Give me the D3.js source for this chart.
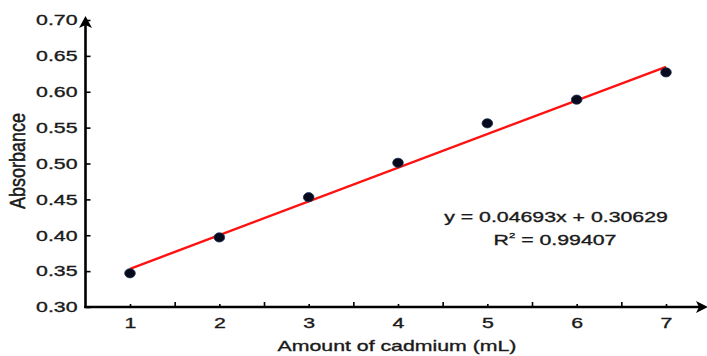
<!DOCTYPE html>
<html>
<head>
<meta charset="utf-8">
<script src="https://cdn.jsdelivr.net/npm/d3@7"></script>
<style>
  html, body { margin: 0; padding: 0; background: #fff; }
  svg { display: block; }
  text { font-family: "Liberation Sans", Arial, sans-serif; fill: #1a1a1a; stroke: #1a1a1a; stroke-width: 0.35px; }
</style>
</head>
<body>
<div id="chart"></div>
<script>
(function () {
    // ===== data =====
    const volumes = [1, 2, 3, 4, 5, 6, 7];                 // mL
    const absorbance = [0.347, 0.397, 0.453, 0.501, 0.556, 0.589, 0.627];
    const slope = 0.04693, intercept = 0.30629, r2 = "0.99407";
    const yTicks = [0.30, 0.35, 0.40, 0.45, 0.50, 0.55, 0.60, 0.65, 0.70];
    const xTicks = [1, 2, 3, 4, 5, 6, 7];
    const xMinor = [1.5, 2.5, 3.5, 4.5, 5.5, 6.5];

    // ===== settings =====
    const W = 707, H = 356;
    const SX = 1.42;       // reference text looks stretched horizontally
    const FS = 15;

    const svg = d3.select('#chart').append('svg')
        .attr('width', W).attr('height', H);

    const x = d3.scaleLinear().domain([1, 7]).range([130, 666]);
    const y = d3.scaleLinear().domain([0.30, 0.70]).range([307, 20]);
    const x0 = x.invert(85.5);

    // axes lines
    const axisG = svg.append('g');
    axisG.append('line')
        .attr('x1', x(x0)).attr('x2', x(x0))
        .attr('y1', y(0.30) + 1).attr('y2', 24)
        .attr('stroke', '#000').attr('stroke-width', 2.6);
    axisG.append('line')
        .attr('x1', x(x0) - 1.3).attr('x2', 700)
        .attr('y1', y(0.30)).attr('y2', y(0.30))
        .attr('stroke', '#000').attr('stroke-width', 2.6);
    // arrow heads
    const ax = x(x0), ay = y(0.30);
    axisG.append('path')
        .attr('d', `M${ax},16 L${ax - 6.5},28 L${ax},25 L${ax + 6.5},28 Z`)
        .attr('fill', '#000');
    axisG.append('path')
        .attr('d', `M708,${ay} L696,${ay - 6} L699,${ay} L696,${ay + 6} Z`)
        .attr('fill', '#000');

    // y axis ticks + labels
    const yAxis = d3.axisLeft(y).tickValues(yTicks).tickSize(-5).tickPadding(8)
        .tickFormat(d3.format('.2f'));
    const gy = svg.append('g').attr('transform', `translate(${ax},0)`).call(yAxis);
    gy.select('.domain').remove();
    gy.selectAll('line').attr('stroke', '#000').attr('stroke-width', 1.6);
    gy.selectAll('text')
        .attr('x', -8 / SX)
        .attr('transform', `scale(${SX},1)`)
        .style('font-size', FS + 'px')
        .style('font-family', '"Liberation Sans", Arial, sans-serif')
        .attr('fill', '#1a1a1a');

    // x axis ticks + labels
    const xAxis = d3.axisBottom(x).tickValues(xTicks).tickSize(-3).tickFormat(d3.format('d'));
    const gx = svg.append('g').attr('transform', `translate(0,${ay})`).call(xAxis);
    gx.select('.domain').remove();
    gx.selectAll('line').attr('stroke', '#000').attr('stroke-width', 1.6);
    gx.selectAll('text')
        .attr('x', 0).attr('y', 21).attr('dy', 0)
        .attr('transform', `scale(${SX},1)`)
        .style('font-size', FS + 'px')
        .style('font-family', '"Liberation Sans", Arial, sans-serif')
        .attr('fill', '#1a1a1a');
    // minor ticks
    const xMinorAxis = d3.axisBottom(x).tickValues(xMinor).tickSize(-5).tickFormat('');
    const gxm = svg.append('g').attr('transform', `translate(0,${ay})`).call(xMinorAxis);
    gxm.select('.domain').remove();
    gxm.selectAll('line').attr('stroke', '#000').attr('stroke-width', 1.6);

    // regression line
    const fit = d3.line().x(d => x(d)).y(d => y(slope * d + intercept));
    svg.append('path')
        .datum([1, 7])
        .attr('d', fit)
        .attr('fill', 'none')
        .attr('stroke', '#ff1111')
        .attr('stroke-width', 2.4);

    // points
    svg.append('g').selectAll('ellipse')
        .data(volumes.map((v, i) => ({ v, a: absorbance[i] })))
        .join('ellipse')
        .attr('cx', d => x(d.v))
        .attr('cy', d => y(d.a))
        .attr('rx', 5.3).attr('ry', 4.6)
        .attr('fill', '#060a1c')
        .attr('stroke', '#1c3050').attr('stroke-width', 0.8);

    // titles
    svg.append('text')
        .attr('transform', `translate(397,351) scale(${SX},1)`)
        .attr('text-anchor', 'middle')
        .style('font-size', FS + 'px')
        .text('Amount of cadmium (mL)');

    svg.append('text')
        .attr('transform', `translate(25,161) rotate(-90) scale(1.2,${SX})`)
        .attr('text-anchor', 'middle')
        .style('font-size', FS + 'px')
        .text('Absorbance');

    // equation
    svg.append('text')
        .attr('transform', `translate(556,222) scale(${SX},1)`)
        .attr('text-anchor', 'middle')
        .style('font-size', FS + 'px')
        .text(`y = ${slope}x + ${intercept}`);

    const r2t = svg.append('text')
        .attr('transform', `translate(555,245) scale(${SX},1)`)
        .attr('text-anchor', 'middle')
        .style('font-size', FS + 'px');
    r2t.append('tspan').text('R');
    r2t.append('tspan').attr('dy', -7).style('font-size', '8px').text('2');
    r2t.append('tspan').attr('dy', 7).text(` = ${r2}`);
})();
</script>
</body>
</html>
